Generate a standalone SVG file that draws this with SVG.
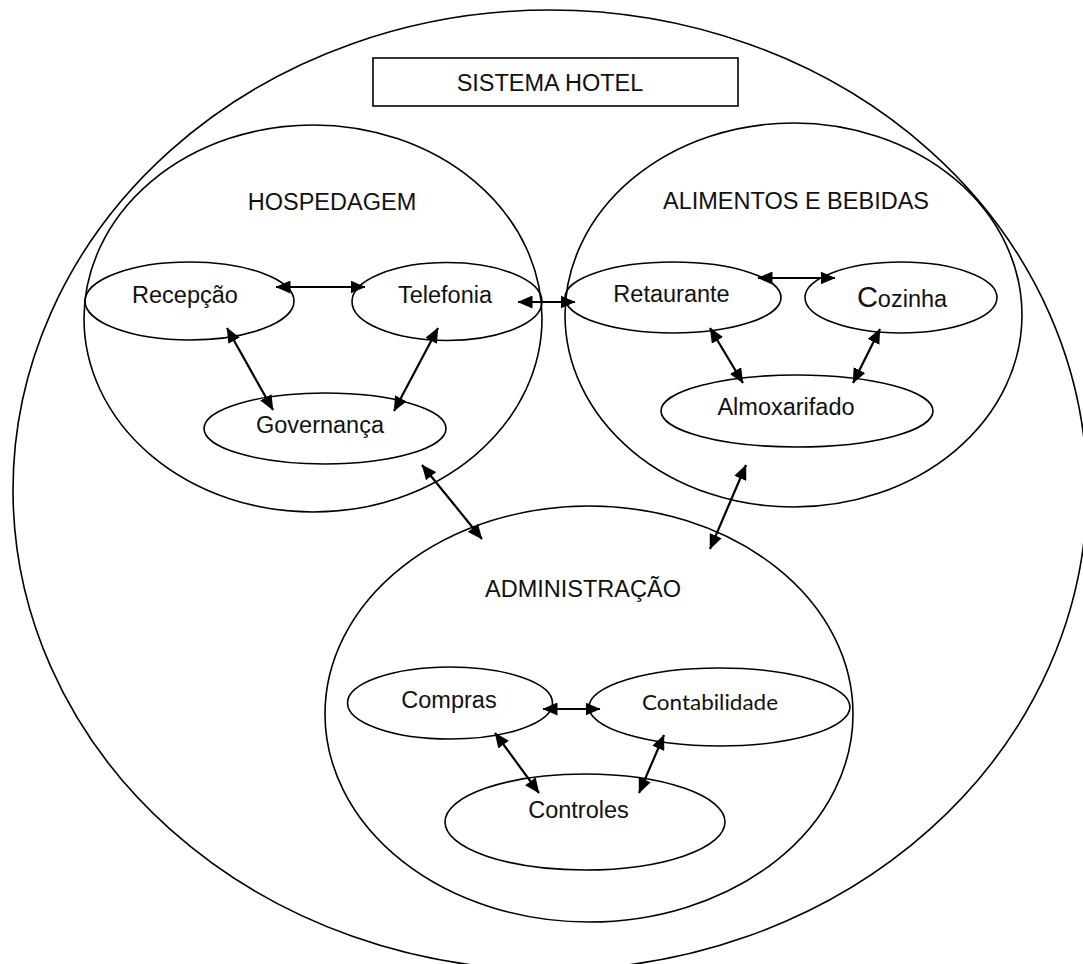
<svg xmlns="http://www.w3.org/2000/svg" width="1083" height="964" viewBox="0 0 1083 964">
<style>
.shape{fill:none;stroke:#000;stroke-width:1.6}
.lbl{font-family:"Liberation Sans",Arial,sans-serif;font-size:23.5px;fill:#111;text-anchor:middle}
.calib{font-family:Lato,"Open Sans",sans-serif;font-size:22px;fill:#111;text-anchor:middle}
.conn line{stroke:#000;stroke-width:2.2;marker-start:url(#ah);marker-end:url(#ah)}
</style>
<defs>
<marker id="ah" viewBox="0 0 15 13" refX="14.5" refY="6.5" markerWidth="15" markerHeight="13" markerUnits="userSpaceOnUse" orient="auto-start-reverse">
<path d="M0,0 L15,6.5 L0,13 z" fill="#000"/>
</marker>
</defs>
<rect width="1083" height="964" fill="#fff"/>
<g id="sistema-hotel">
<ellipse class="shape" cx="550" cy="490" rx="537" ry="480"/>
<rect class="shape" x="373" y="58" width="365" height="48"/>
<text class="lbl" x="550" y="91" font-size="22.5">SISTEMA HOTEL</text>
</g>
<g id="hospedagem">
<ellipse class="shape" cx="313" cy="318.5" rx="229" ry="193.5"/>
<text class="lbl" x="332" y="210">HOSPEDAGEM</text>
</g>
<g id="recepcao">
<ellipse class="shape" cx="189.5" cy="301" rx="104.5" ry="39"/>
<text class="lbl" x="185" y="303">Recepção</text>
</g>
<g id="telefonia">
<ellipse class="shape" cx="447" cy="301.5" rx="95" ry="39"/>
<text class="lbl" x="445" y="303">Telefonia</text>
</g>
<g id="governanca">
<ellipse class="shape" cx="325" cy="428.5" rx="121" ry="35.5"/>
<text class="lbl" x="320" y="433">Governança</text>
</g>
<g id="alimentos-bebidas">
<ellipse class="shape" cx="793.5" cy="315" rx="228.5" ry="192"/>
<text class="lbl" x="796" y="209">ALIMENTOS E BEBIDAS</text>
</g>
<g id="retaurante">
<ellipse class="shape" cx="673" cy="297.5" rx="108" ry="35.5"/>
<text class="lbl" x="671.5" y="302">Retaurante</text>
</g>
<g id="cozinha">
<ellipse class="shape" cx="901" cy="297.5" rx="96" ry="35.5"/>
<text class="lbl" x="902" y="307"><tspan font-size="29px">C</tspan>ozinha</text>
</g>
<g id="almoxarifado">
<ellipse class="shape" cx="797" cy="411" rx="136" ry="36"/>
<text class="lbl" x="786" y="415">Almoxarifado</text>
</g>
<g id="administracao">
<ellipse class="shape" cx="589" cy="714" rx="264" ry="208"/>
<text class="lbl" x="583" y="597">ADMINISTRAÇÃO</text>
</g>
<g id="compras">
<ellipse class="shape" cx="450" cy="703" rx="102.5" ry="36"/>
<text class="lbl" x="449" y="708">Compras</text>
</g>
<g id="contabilidade">
<ellipse class="shape" cx="719.5" cy="707" rx="130.5" ry="39"/>
<text class="calib" x="710" y="710" textLength="136" lengthAdjust="spacingAndGlyphs">Contabilidade</text>
</g>
<g id="controles">
<ellipse class="shape" cx="585" cy="822" rx="140" ry="48"/>
<text class="lbl" x="578.5" y="818">Controles</text>
</g>
<g id="connectors" class="conn">
<line x1="276" y1="287" x2="365" y2="287"/>
<line x1="227" y1="328" x2="273" y2="410"/>
<line x1="438" y1="328" x2="394" y2="411"/>
<line x1="518" y1="302" x2="575" y2="302"/>
<line x1="758" y1="278" x2="835" y2="278"/>
<line x1="710" y1="328" x2="743" y2="383"/>
<line x1="880" y1="329" x2="853" y2="383"/>
<line x1="422" y1="465" x2="482" y2="539"/>
<line x1="746" y1="465" x2="710" y2="549"/>
<line x1="543" y1="709" x2="600" y2="709"/>
<line x1="495" y1="733" x2="539" y2="793"/>
<line x1="664" y1="735" x2="639" y2="793"/>
</g>
</svg>
